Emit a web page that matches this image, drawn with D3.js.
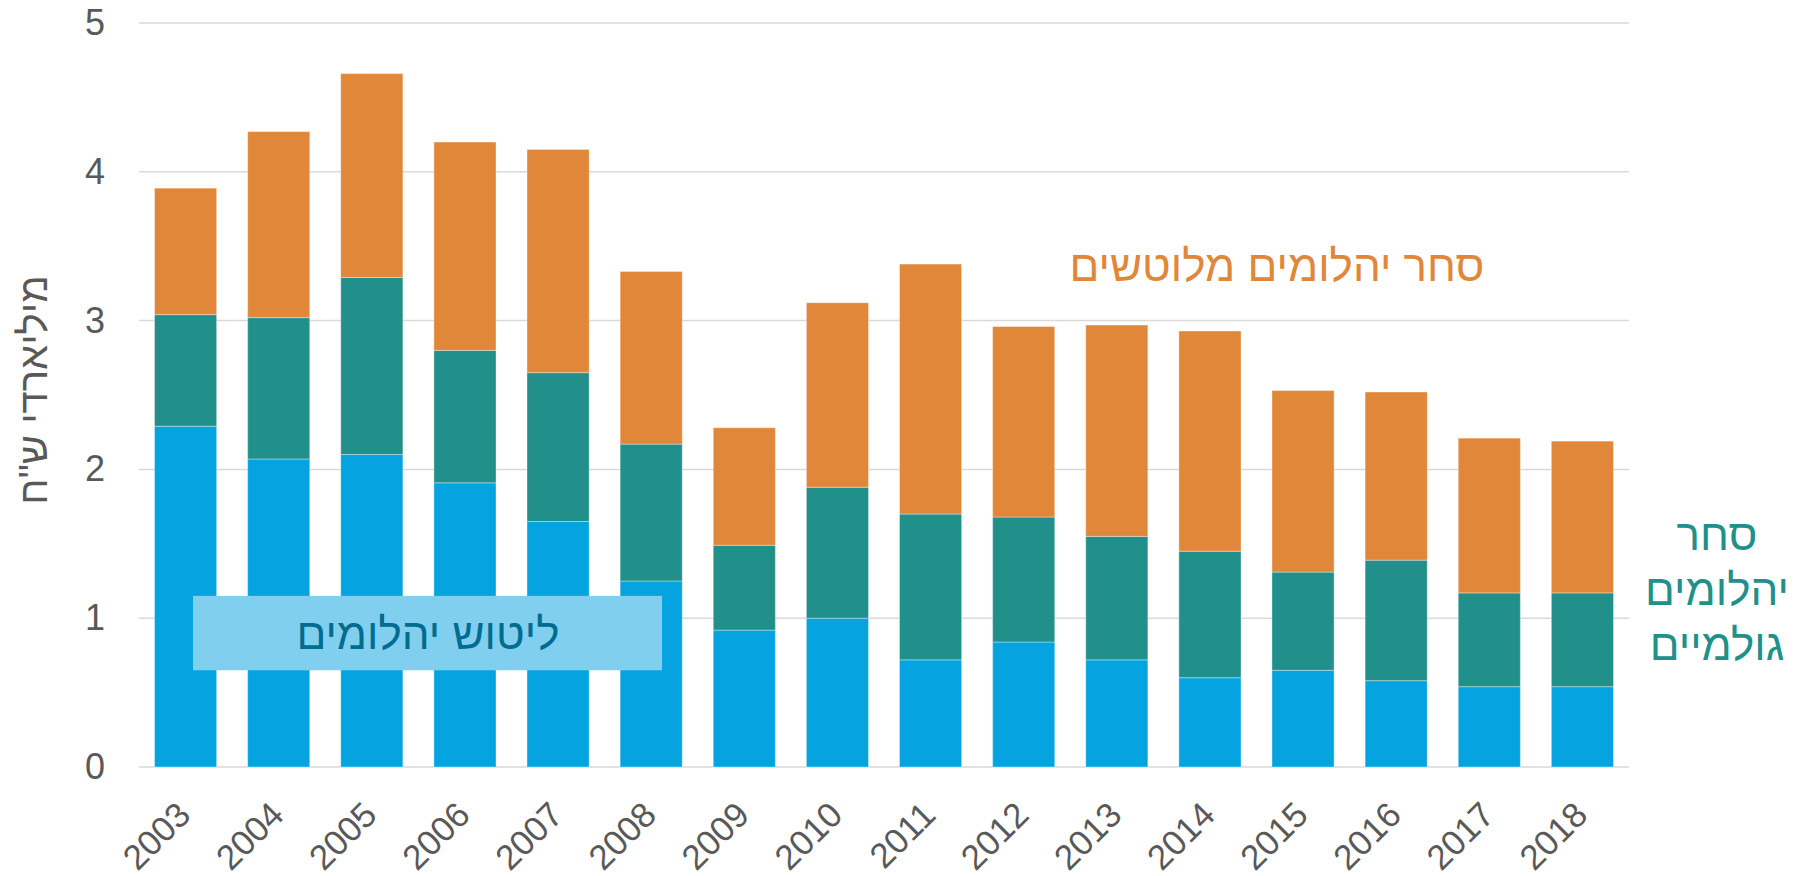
<!DOCTYPE html>
<html>
<head>
<meta charset="utf-8">
<script src="https://cdn.jsdelivr.net/npm/d3@7"></script>
<style>
  body { margin: 0; background: #fff; }
  text { font-family: 'Liberation Sans', Arial, sans-serif; }
</style>
</head>
<body>
<script>
// values, billions NIS
const years = ['2003','2004','2005','2006','2007','2008','2009','2010','2011','2012','2013','2014','2015','2016','2017','2018']
const polishing = [2.29, 2.07, 2.10, 1.91, 1.65, 1.25, 0.92, 1.00, 0.72, 0.84, 0.72, 0.60, 0.65, 0.58, 0.54, 0.54]
const roughTrade = [0.75, 0.95, 1.19, 0.89, 1.00, 0.92, 0.57, 0.88, 0.98, 0.84, 0.83, 0.85, 0.66, 0.81, 0.63, 0.63]
const polishedTrade = [0.85, 1.25, 1.37, 1.40, 1.50, 1.16, 0.79, 1.24, 1.68, 1.28, 1.42, 1.48, 1.22, 1.13, 1.04, 1.02]
const yTicks = [0, 1, 2, 3, 4, 5]

const width = 1801,
  height = 876,
  margin = { top: 23, bottom: 109, right: 172, left: 139 }

const keys = ['polishing', 'rough', 'polished']
const colors = { polishing: '#05A4E1', rough: '#21908A', polished: '#E0873A' }

const data = years.map((y, i) => ({
  year: y,
  polishing: polishing[i],
  rough: roughTrade[i],
  polished: polishedTrade[i],
}))

const svg = d3.select('body').append('svg')
  .attr('width', width)
  .attr('height', height)

const x = d3.scaleBand()
  .domain(years)
  .range([margin.left, width - margin.right])
  .paddingInner(0.333)
  .paddingOuter(0.1667)

const y = d3.scaleLinear()
  .domain([0, 5])
  .range([height - margin.bottom, margin.top])

// gridlines
svg.append('g')
  .selectAll('line')
  .data(yTicks)
  .join('line')
  .attr('x1', margin.left)
  .attr('x2', width - margin.right)
  .attr('y1', d => y(d))
  .attr('y2', d => y(d))
  .attr('stroke', '#D9D9D9')
  .attr('stroke-width', 1.5)

// y axis labels
const yAxis = svg.append('g')
  .attr('transform', `translate(${margin.left - 34},0)`)
  .call(d3.axisLeft(y).tickValues(yTicks).tickFormat(d3.format('d')).tickSize(0).tickPadding(0))
yAxis.select('.domain').remove()
yAxis.selectAll('text')
  .attr('font-size', 36)
  .attr('fill', '#595959')
  .attr('font-family', "'Liberation Sans', Arial, sans-serif")

// stacked bars
const series = d3.stack().keys(keys)(data)
svg.append('g')
  .selectAll('g')
  .data(series)
  .join('g')
  .attr('fill', d => colors[d.key])
  .selectAll('rect')
  .data(d => d)
  .join('rect')
  .attr('x', d => x(d.data.year))
  .attr('width', x.bandwidth())
  .attr('y', d => y(d[1]))
  .attr('height', d => y(d[0]) - y(d[1]))
  .attr('stroke', 'rgba(255,255,255,0.35)')
  .attr('stroke-width', 1)

// x axis labels
const xAxis = svg.append('g')
  .attr('transform', `translate(0,${height - margin.bottom})`)
  .call(d3.axisBottom(x).tickSize(0).tickPadding(0))
xAxis.select('.domain').remove()
xAxis.selectAll('text')
  .attr('font-size', 35)
  .attr('fill', '#595959')
  .attr('font-family', "'Liberation Sans', Arial, sans-serif")
  .attr('text-anchor', 'end')
  .attr('dy', 0)
  .attr('y', 0)
  .attr('transform', 'translate(7,50) rotate(-45)')

// label box for polishing
const boxTop = 1.15, boxBottom = 0.65
svg.append('rect')
  .attr('x', 193)
  .attr('width', 469)
  .attr('y', y(boxTop))
  .attr('height', y(boxBottom) - y(boxTop))
  .attr('fill', '#81CFEF')

svg.append('text')
  .attr('x', 428)
  .attr('y', 649)
  .attr('text-anchor', 'middle')
  .attr('direction', 'rtl')
  .attr('font-size', 44)
  .attr('fill', '#006C8F')
  .text('ליטוש יהלומים')

svg.append('text')
  .attr('x', 1277)
  .attr('y', 281)
  .attr('text-anchor', 'middle')
  .attr('direction', 'rtl')
  .attr('font-size', 44)
  .attr('fill', '#E0873A')
  .text('סחר יהלומים מלוטשים')

const roughLines = ['סחר', 'יהלומים', 'גולמיים']
svg.append('g')
  .selectAll('text')
  .data(roughLines)
  .join('text')
  .attr('x', 1717)
  .attr('y', (d, i) => 550 + i * 55)
  .attr('text-anchor', 'middle')
  .attr('direction', 'rtl')
  .attr('font-size', 44)
  .attr('fill', '#21908A')
  .text(d => d)

// y title
svg.append('text')
  .attr('transform', 'translate(47,390) rotate(-90)')
  .attr('text-anchor', 'middle')
  .attr('direction', 'rtl')
  .attr('font-size', 40)
  .attr('fill', '#595959')
  .text('מיליארדי ש"ח')
</script>
</body>
</html>
